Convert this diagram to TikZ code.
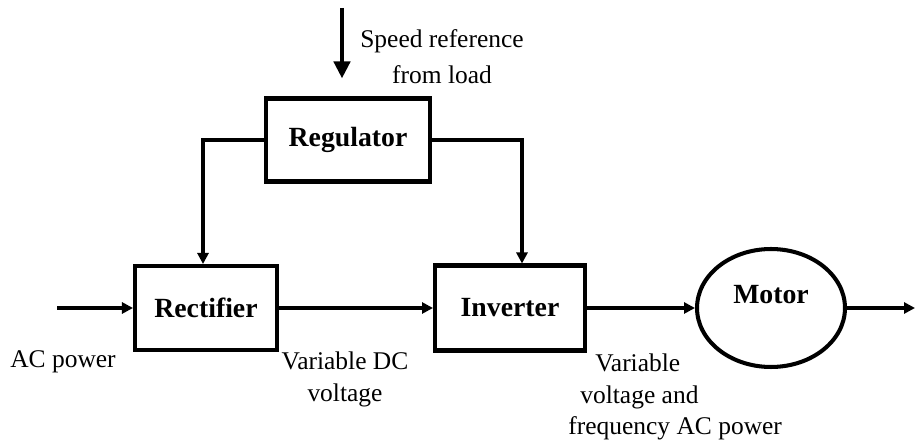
\documentclass[tikz,border=0pt]{standalone}
\usepackage{fontspec}
\setmainfont{Liberation Serif}
\usetikzlibrary{arrows.meta,positioning,shapes.geometric}

\begin{document}
\begin{tikzpicture}[
    x=0.02cm, y=-0.02cm,
    block/.style={
        rectangle, draw, line width=2.3pt,
        inner sep=0pt, text centered,
        font=\fontsize{15.8}{18}\selectfont\bfseries,
    },
    motorbox/.style={block, ellipse, minimum width=2.96cm, minimum height=2.36cm,
        text height=0.36cm, text depth=0.52cm},
    arr/.style={-{Triangle[length=0.22cm,width=0.22cm]}, line width=2.2pt},
    bigarr/.style={-{Triangle[length=0.34cm,width=0.32cm]}, line width=2.8pt},
    lbl/.style={inner sep=0pt, font=\fontsize{14.5}{18.2}\selectfont},
]

\useasboundingbox (0,0) rectangle (915,445);

% Blocks
\node[block, minimum width=3.28cm, minimum height=1.66cm] (reg) at (348,140) {Regulator};
\node[block, minimum width=2.84cm, minimum height=1.68cm] (rect) at (206,308) {Rectifier};
\node[block, minimum width=3.0cm, minimum height=1.7cm] (inv) at (510,308) {Inverter};
\node[motorbox] (motor) at (771,308) {Motor};

% Free ends
\coordinate (spdin) at (342,8);
\coordinate (acin) at (57,308);
\coordinate (acout) at (915,308);

% Labels
\node[lbl, align=center, font=\fontsize{14.5}{20.5}\selectfont] (spdtxt) at (442,57)
    {Speed reference\\from load};
\node[lbl] (actxt) at (63,362) {AC power};
\node[lbl, align=center] (dctxt) at (345,379) {Variable DC\\voltage};
\node[lbl, align=left, anchor=north west] (vftxt) at (568,353)
    {\hspace*{0.54cm}Variable\\\hspace*{0.24cm}voltage and\\frequency AC power};

% Arrows
\draw[bigarr, shorten >=0.36cm] (spdin) -- (spdin |- reg.north);
\draw[arr] (reg.west) -| ([xshift=-0.06cm]rect.north);
\draw[arr] (reg.east) -| ([xshift=0.24cm]inv.north);
\draw[arr] (acin) -- (rect.west);
\draw[arr] (rect.east) -- (inv.west);
\draw[arr] (inv.east) -- (motor.west);
\draw[arr] (motor.east) -- (acout);

\end{tikzpicture}
\end{document}
